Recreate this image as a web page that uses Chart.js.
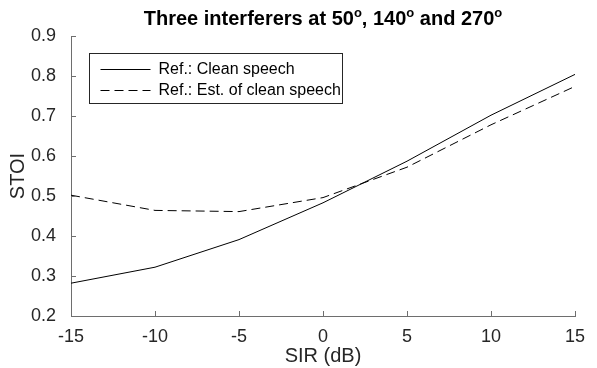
<!DOCTYPE html>
<html>
<head>
<meta charset="utf-8">
<script src="https://cdn.jsdelivr.net/npm/chart.js@4.4.0/dist/chart.umd.min.js"></script>
<style>
  html, body { margin: 0; padding: 0; background: #fff; }
  #wrap { width: 597px; height: 368px; position: relative; }
</style>
</head>
<body>
<div id="wrap"><canvas id="stoiChart"></canvas></div>
<script>
// Values
const sirDb = [-15, -10, -5, 0, 5, 10, 15];
const cleanRef = [0.282, 0.322, 0.391, 0.483, 0.587, 0.702, 0.804];
const estRef = [0.502, 0.464, 0.461, 0.496, 0.572, 0.678, 0.774];
const seriesNames = ['Ref.: Clean speech', 'Ref.: Est. of clean speech'];
const xTicks = [-15, -10, -5, 0, 5, 10, 15];
const yTicks = [0.2, 0.3, 0.4, 0.5, 0.6, 0.7, 0.8, 0.9];
// title pieces, "o" parts are drawn as superscripts like MATLAB's ^o
const titleParts = [
    ['Three interferers at 50', false], ['o', true],
    [', 140', false], ['o', true],
    [' and 270', false], ['o', true]
];

const axisColor = '#6e6e6e';
const textColor = '#262626';
const fontFamily = 'Arial, "Liberation Sans", Helvetica, sans-serif';

// MATLAB-style ticks pointing into the axes
const inwardTicks = {
    id: 'inwardTicks',
    afterDraw(chart) {
        const ctx = chart.ctx;
        const area = chart.chartArea;
        const xs = chart.scales.x, ys = chart.scales.y;
        ctx.save();
        ctx.strokeStyle = axisColor;
        ctx.lineWidth = 1;
        ctx.beginPath();
        xTicks.forEach(v => {
            const px = Math.round(xs.getPixelForValue(v)) + 0.5;
            ctx.moveTo(px, area.bottom);
            ctx.lineTo(px, area.bottom - 5);
        });
        yTicks.forEach(v => {
            const py = Math.round(ys.getPixelForValue(v)) + 0.5;
            ctx.moveTo(area.left, py);
            ctx.lineTo(area.left + 5, py);
        });
        ctx.stroke();
        ctx.restore();
    }
};

// Title centred over the axes, with superscript degree marks
const supTitle = {
    id: 'supTitle',
    afterDraw(chart) {
        const ctx = chart.ctx;
        const area = chart.chartArea;
        const big = 'bold 20px ' + fontFamily;
        const small = 'bold 13px ' + fontFamily;
        ctx.save();
        ctx.fillStyle = '#000';
        ctx.textBaseline = 'alphabetic';
        let total = 0;
        titleParts.forEach(([t, sup]) => {
            ctx.font = sup ? small : big;
            total += ctx.measureText(t).width;
        });
        let x = (area.left + area.right) / 2 - total / 2;
        const base = 25;
        titleParts.forEach(([t, sup]) => {
            ctx.font = sup ? small : big;
            ctx.fillText(t, x, sup ? base - 8 : base);
            x += ctx.measureText(t).width;
        });
        ctx.restore();
    }
};

// Boxed legend in the top-left corner of the axes
const boxLegend = {
    id: 'boxLegend',
    afterDraw(chart) {
        const ctx = chart.ctx;
        const area = chart.chartArea;
        const x0 = area.left + 18.5, y0 = area.top + 17.5;
        const w = 253, h = 50;
        ctx.save();
        ctx.fillStyle = '#fff';
        ctx.fillRect(x0, y0, w, h);
        ctx.strokeStyle = '#262626';
        ctx.lineWidth = 1;
        ctx.strokeRect(x0, y0, w, h);
        ctx.font = '16px ' + fontFamily;
        ctx.textBaseline = 'middle';
        chart.data.datasets.forEach((ds, i) => {
            const ly = Math.round(y0 + 15 + i * 21) + 0.5;
            ctx.strokeStyle = ds.borderColor;
            ctx.setLineDash(ds.borderDash || []);
            ctx.beginPath();
            ctx.moveTo(x0 + 11, ly);
            ctx.lineTo(x0 + 61, ly);
            ctx.stroke();
            ctx.setLineDash([]);
            ctx.fillStyle = '#000';
            ctx.fillText(ds.label, x0 + 69, ly);
        });
        ctx.restore();
    }
};

new Chart(document.getElementById('stoiChart'), {
    type: 'line',
    data: {
        datasets: [{
            label: seriesNames[0],
            data: sirDb.map((x, i) => ({ x: x, y: cleanRef[i] })),
            borderColor: '#000',
            borderWidth: 1,
            pointRadius: 0,
            tension: 0
        }, {
            label: seriesNames[1],
            data: sirDb.map((x, i) => ({ x: x, y: estRef[i] })),
            borderColor: '#000',
            borderWidth: 1,
            borderDash: [9, 5],
            pointRadius: 0,
            tension: 0
        }]
    },
    options: {
        responsive: true,
        maintainAspectRatio: false,
        animation: false,
        layout: { padding: { left: 0, right: 22, top: 36, bottom: 0 } },
        plugins: {
            legend: { display: false },
            tooltip: { enabled: false },
            title: { display: false }
        },
        scales: {
            x: {
                type: 'linear',
                min: -15,
                max: 15,
                afterBuildTicks: scale => { scale.ticks = xTicks.map(v => ({ value: v })); },
                afterFit: scale => { scale.height = 52; },
                grid: { display: false },
                border: { display: true, color: axisColor, width: 1 },
                ticks: {
                    color: textColor,
                    padding: 2,
                    font: { family: fontFamily, size: 18 },
                    maxRotation: 0
                },
                title: {
                    display: true,
                    text: 'SIR (dB)',
                    color: textColor,
                    font: { family: fontFamily, size: 20 },
                    padding: { top: 3, bottom: 0 }
                }
            },
            y: {
                type: 'linear',
                min: 0.2,
                max: 0.9,
                afterBuildTicks: scale => { scale.ticks = yTicks.map(v => ({ value: v })); },
                afterFit: scale => { scale.width = 71; },
                grid: { display: false },
                border: { display: true, color: axisColor, width: 1 },
                ticks: {
                    color: textColor,
                    padding: 7,
                    font: { family: fontFamily, size: 18 },
                    callback: v => v.toFixed(1)
                },
                title: {
                    display: true,
                    text: 'STOI',
                    color: textColor,
                    font: { family: fontFamily, size: 20 },
                    padding: { top: 6, bottom: 0 }
                }
            }
        }
    },
    plugins: [inwardTicks, supTitle, boxLegend]
});
</script>
</body>
</html>
